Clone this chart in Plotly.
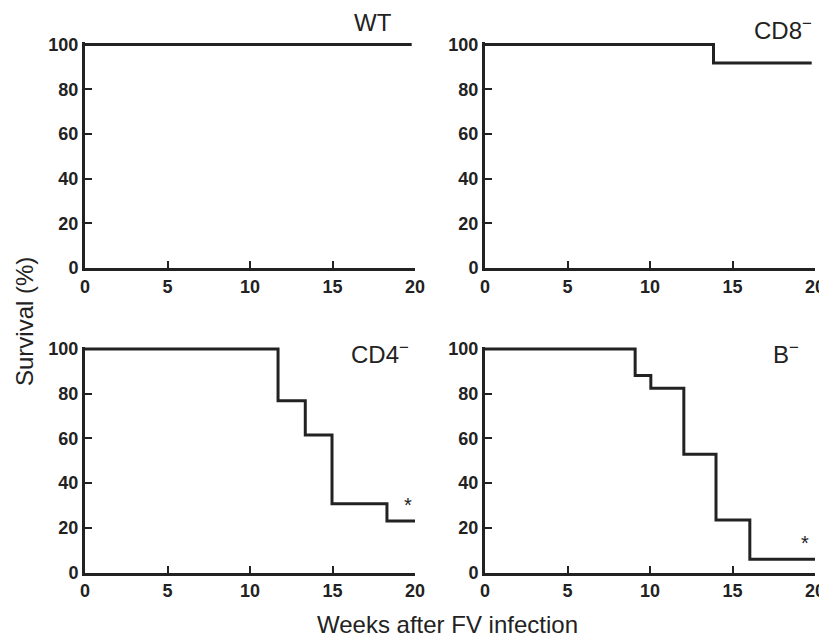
import plotly.graph_objects as go

# Kaplan-Meier step data (weeks, % survival)
wt_x = [0, 19.8]
wt_y = [100, 100]
cd8_x = [0, 13.85, 19.8]
cd8_y = [100, 91.7, 91.7]
cd4_x = [0, 11.7, 13.35, 14.97, 18.3, 20]
cd4_y = [100, 76.9, 61.5, 30.8, 23.1, 23.1]
b_x = [0, 9.1, 10.05, 12.05, 14.0, 16.05, 20]
b_y = [100, 88.2, 82.4, 52.9, 23.5, 5.9, 5.9]

panel_names = ["WT", "CD8<sup>−</sup>", "CD4<sup>−</sup>", "B<sup>−</sup>"]
x_ticks = [0, 5, 10, 15, 20]
y_ticks = [0, 20, 40, 60, 80, 100]

series = [(wt_x, wt_y), (cd8_x, cd8_y), (cd4_x, cd4_y), (b_x, b_y)]

OFF = 8  # page body margin
W, H = 819, 629


def fx(p):
    return (p - OFF) / W


def fy(p):
    return 1 - (p - OFF) / H


EXT = 0.01  # small headroom so the 100% line isn't clipped
xdoms = [[fx(85), fx(415)], [fx(485), fx(815)]]
bot_px = [572.5, 268.0]
h_px = 223.5
ydoms = [[fy(b), fy(b - h_px * (1 + EXT))] for b in bot_px]
# panel order: top-left, top-right, bottom-left, bottom-right
layout_pos = [(0, 1), (1, 1), (0, 0), (1, 0)]

ink = "#222222"
FONT = "Liberation Sans, Arial"
fig = go.Figure()
for i, ((xs, ys), (cx, ry)) in enumerate(zip(series, layout_pos)):
    n = "" if i == 0 else str(i + 1)
    fig.add_trace(go.Scatter(x=xs, y=ys, mode="lines", line=dict(shape="hv", color=ink, width=3),
                             xaxis="x" + n, yaxis="y" + n, showlegend=False, hoverinfo="skip"))
    tf = dict(family=FONT, size=18, color=ink, weight="bold")
    ax = dict(domain=xdoms[cx], range=[0, 20], tickvals=x_ticks, ticks="inside", ticklen=7,
              tickwidth=2, tickcolor=ink, showline=True, linewidth=3, linecolor=ink,
              showgrid=False, zeroline=False, anchor="y" + n, automargin=False, tickfont=tf)
    ay = dict(domain=ydoms[ry], range=[0, 100 * (1 + EXT)], tickvals=y_ticks, ticks="inside", ticklen=7,
              tickwidth=2, tickcolor=ink, showline=True, linewidth=3, linecolor=ink,
              showgrid=False, zeroline=False, anchor="x" + n, automargin=False, tickfont=tf)
    fig.layout["xaxis" + n] = ax
    fig.layout["yaxis" + n] = ay

annotations = []
label_pos = [(373, 22), (783, 29), (380, 353), (786, 353)]
for name, (px, py) in zip(panel_names, label_pos):
    annotations.append(dict(text=name, x=fx(px), y=fy(py), xref="paper", yref="paper",
                            showarrow=False, xanchor="center", yanchor="middle",
                            font=dict(family=FONT, size=24, color=ink)))
# significance asterisks
annotations.append(dict(text="*", x=19.6, y=30, xref="x3", yref="y3", showarrow=False,
                        font=dict(family=FONT, size=20, color=ink)))
annotations.append(dict(text="*", x=19.4, y=13, xref="x4", yref="y4", showarrow=False,
                        font=dict(family=FONT, size=20, color=ink)))
annotations.append(dict(text="Survival (%)", x=fx(25), y=fy(322), xref="paper", yref="paper",
                        showarrow=False, textangle=-90, xanchor="center", yanchor="middle",
                        font=dict(family=FONT, size=24, color=ink)))
annotations.append(dict(text="Weeks after FV infection", x=fx(447), y=fy(624), xref="paper", yref="paper",
                        showarrow=False, xanchor="center", yanchor="middle",
                        font=dict(family=FONT, size=24, color=ink)))

fig.update_layout(width=W, height=H, margin=dict(l=0, r=0, t=0, b=0),
                  paper_bgcolor="white", plot_bgcolor="white", annotations=annotations)
fig.write_html("out.html")
